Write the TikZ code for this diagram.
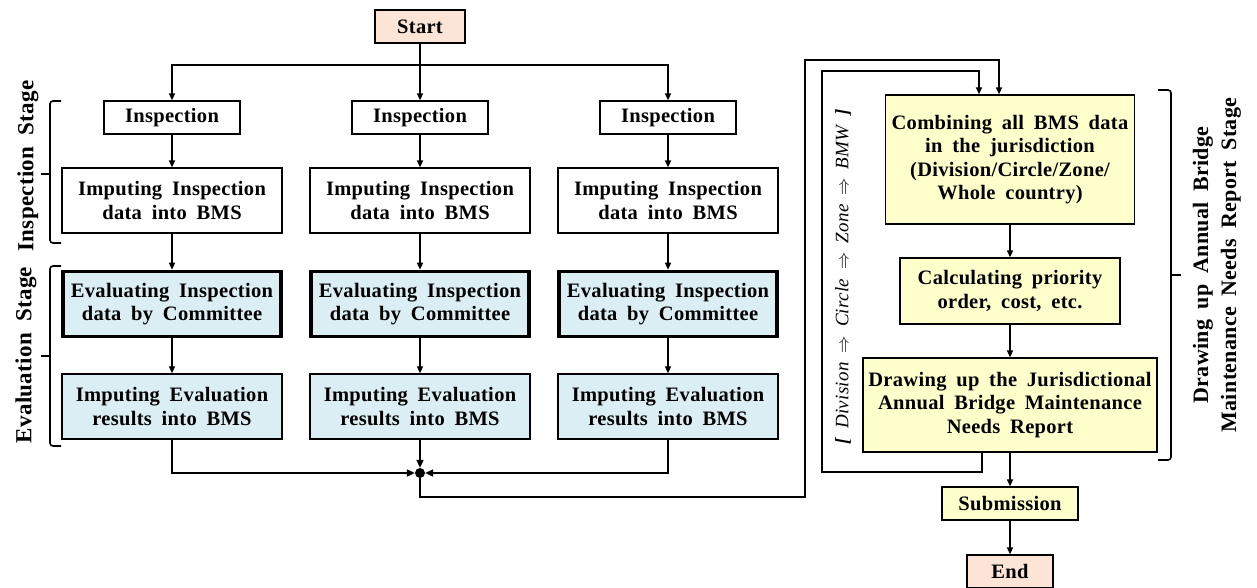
\documentclass[tikz,border=0pt]{standalone}
\usepackage{fontspec}
\setmainfont{Liberation Serif}[LetterSpace=1.5,WordSpace=1.8]
\usetikzlibrary{arrows.meta,positioning}

\definecolor{termfill}{RGB}{252,229,214}
\definecolor{evalfill}{RGB}{219,238,243}
\definecolor{reportfill}{RGB}{255,255,204}

\begin{document}
\begin{tikzpicture}[x=1pt,y=-1pt,
    box/.style={draw, line width=1.3pt, align=center, inner sep=0pt,
        font=\bfseries\fontsize{20.5}{23.5}\selectfont},
    termbox/.style={box, fill=termfill, minimum width=90pt, minimum height=33pt},
    inspbox/.style={box, minimum width=136pt, minimum height=33pt},
    impbox/.style={box, minimum width=220pt, minimum height=65pt},
    evalbox/.style={box, fill=evalfill, line width=3.6pt, minimum width=218pt, minimum height=65pt},
    resbox/.style={box, fill=evalfill, minimum width=220pt, minimum height=65pt},
    repbox/.style={box, fill=reportfill},
    stagelabel/.style={rotate=90, align=center, font=\bfseries\fontsize{22}{28}\selectfont},
    arr/.style={line width=1.4pt, -{Triangle[length=7pt,width=6pt]}},
    joinline/.style={line width=2.8pt, -{Triangle[length=8pt,width=7pt]}},
    loopline/.style={line width=1.4pt},
    brace/.style={line width=1.6pt, rounded corners=3pt}
]
\useasboundingbox (0,0) rectangle (1257,587);

% start and the three inspection columns
\node[termbox] (start) at (420,26.5) {Start};
\coordinate (fork) at (420,65);

\foreach \c/\x in {1/172,2/420,3/668}{
    \node[inspbox] (insp\c) at (\x,117.5) {Inspection};
    \node[impbox] (imp\c) at (\x,200.5) {Imputing Inspection\\data into BMS};
    \node[evalbox] (eval\c) at (\x,304) {Evaluating Inspection\\data by Committee};
    \node[resbox] (res\c) at (\x,406.5) {Imputing Evaluation\\results into BMS};
    \draw[arr] (insp\c) -- (imp\c);
    \draw[arr] (imp\c) -- (eval\c);
    \draw[arr] (eval\c) -- (res\c);
}

\draw[arr] (start) -- (insp2);
\draw[arr] (fork) -| (insp1);
\draw[arr] (fork) -| (insp3);

% results meet in one point
\node[circle, fill, inner sep=0pt, minimum size=10pt] (join) at (420,473) {};
\draw[joinline] (res1) |- (join);
\draw[joinline] (res2) -- (join);
\draw[joinline] (res3) |- (join);

% report stage
\node[repbox, minimum width=249pt, minimum height=129pt] (comb) at (1010,159.5)
    {Combining all BMS data\\in the jurisdiction\\(Division/Circle/Zone/\\Whole country)};
\node[repbox, minimum width=220pt, minimum height=66pt] (calc) at (1010,291)
    {Calculating priority\\order, cost, etc.};
\node[repbox, minimum width=294pt, minimum height=94pt] (report) at (1010,405)
    {Drawing up the Jurisdictional\\Annual Bridge Maintenance\\Needs Report};
\node[repbox, minimum width=136pt, minimum height=33pt] (sub) at (1010,503.5) {Submission};
\node[termbox, minimum width=86pt] (end) at (1010,571.5) {End};

\draw[arr] (comb) -- (calc);
\draw[arr] (calc) -- (report);
\draw[arr] (report) -- (sub);
\draw[arr] (sub) -- (end);

% feedback loops into the combining step
\coordinate (in1) at ([xshift=-11pt]comb.north);
\coordinate (in2) at ([xshift=-31pt]comb.north);
\coordinate (out2) at ([xshift=-28pt]report.south);
\draw[loopline, arr] (join) |- (805,497) |- (in1 |- 0,60) -- (in1);
\draw[loopline, arr] (out2) |- (822,472) |- (in2 |- 0,71) -- (in2);

\node[rotate=90, font=\itshape\fontsize{19}{22}\selectfont] (levels) at (843,277)
    {\textbf{[}\enspace Division $\Rightarrow$ Circle $\Rightarrow$ Zone $\Rightarrow$ BMW\enspace\textbf{]}};

% stage brackets
\draw[brace] (61,101) -- (50,101) -- (50,243) -- (61,243);
\draw[brace] (50,174) -- (41,174);
\draw[brace] (61,266) -- (50,266) -- (50,446) -- (61,446);
\draw[brace] (50,356) -- (41,356);
\draw[brace] (1158,90) -- (1171,90) -- (1171,460) -- (1158,460);
\draw[brace] (1171,275) -- (1181,275);

\node[stagelabel, font=\bfseries\fontsize{23}{28}\selectfont] (inspstage) at (28,166) {Inspection Stage};
\node[stagelabel, font=\bfseries\fontsize{23}{28}\selectfont] (evalstage) at (26,355) {Evaluation Stage};
\node[stagelabel] (repstage) at (1217,265) {Drawing up Annual Bridge\\Maintenance Needs Report Stage};
\end{tikzpicture}
\end{document}
